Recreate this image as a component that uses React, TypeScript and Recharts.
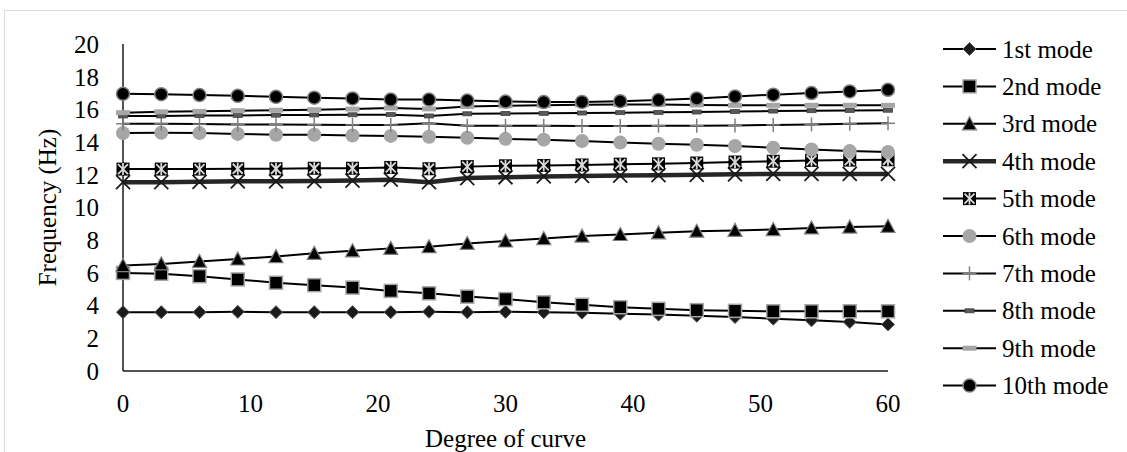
import React from 'react';
import { LineChart, Line, XAxis, YAxis, Legend } from 'recharts';

const degrees = [0, 3, 6, 9, 12, 15, 18, 21, 24, 27, 30, 33, 36, 39, 42, 45, 48, 51, 54, 57, 60];
const mode1 = [3.6, 3.6, 3.6, 3.62, 3.6, 3.6, 3.6, 3.6, 3.62, 3.6, 3.62, 3.6, 3.57, 3.5, 3.45, 3.38, 3.3, 3.2, 3.1, 3.0, 2.85];
const mode2 = [6.0, 5.95, 5.8, 5.6, 5.4, 5.25, 5.1, 4.9, 4.75, 4.55, 4.4, 4.2, 4.05, 3.9, 3.8, 3.72, 3.68, 3.65, 3.65, 3.65, 3.65];
const mode3 = [6.45, 6.55, 6.7, 6.85, 7.0, 7.2, 7.35, 7.5, 7.6, 7.8, 7.95, 8.1, 8.25, 8.35, 8.45, 8.55, 8.6, 8.65, 8.75, 8.8, 8.85];
const mode4 = [11.55, 11.55, 11.57, 11.6, 11.6, 11.62, 11.65, 11.7, 11.55, 11.8, 11.85, 11.9, 11.93, 11.95, 11.98, 12.0, 12.03, 12.05, 12.05, 12.05, 12.05];
const mode5 = [12.35, 12.35, 12.35, 12.37, 12.37, 12.4, 12.4, 12.45, 12.37, 12.5, 12.55, 12.57, 12.6, 12.65, 12.67, 12.72, 12.78, 12.83, 12.88, 12.9, 12.92];
const mode6 = [14.55, 14.57, 14.55, 14.5, 14.45, 14.45, 14.4, 14.38, 14.33, 14.27, 14.2, 14.15, 14.07, 13.97, 13.9, 13.84, 13.76, 13.66, 13.55, 13.45, 13.4];
const mode7 = [15.12, 15.12, 15.1, 15.08, 15.08, 15.06, 15.05, 15.05, 15.15, 15.0, 15.0, 15.0, 14.98, 14.98, 15.0, 15.0, 15.02, 15.05, 15.08, 15.12, 15.15];
const mode8 = [15.6, 15.6, 15.62, 15.63, 15.65, 15.66, 15.67, 15.68, 15.6, 15.73, 15.75, 15.76, 15.78, 15.8, 15.82, 15.84, 15.87, 15.9, 15.92, 15.94, 15.95];
const mode9 = [15.8, 15.85, 15.88, 15.92, 15.95, 15.98, 16.02, 16.08, 16.03, 16.18, 16.22, 16.25, 16.28, 16.3, 16.3, 16.27, 16.25, 16.25, 16.25, 16.25, 16.25];
const mode10 = [16.95, 16.93, 16.88, 16.83, 16.77, 16.72, 16.67, 16.6, 16.6, 16.54, 16.48, 16.45, 16.46, 16.5, 16.57, 16.67, 16.79, 16.9, 17.0, 17.1, 17.2];

const seriesNames = ['1st mode', '2nd mode', '3rd mode', '4th mode', '5th mode', '6th mode', '7th mode', '8th mode', '9th mode', '10th mode'];
const xTicks = [0, 10, 20, 30, 40, 50, 60];
const yTicks = [0, 2, 4, 6, 8, 10, 12, 14, 16, 18, 20];

const allModes = [mode1, mode2, mode3, mode4, mode5, mode6, mode7, mode8, mode9, mode10];
const data = degrees.map((d, i) => {
  const row: any = { deg: d };
  allModes.forEach((m, j) => { row['m' + (j + 1)] = m[i]; });
  return row;
});

const markerTypes = ['diamond', 'square', 'triangle', 'x', 'star', 'grayCircle', 'plus', 'smallDash', 'dash', 'blackCircle'];

const FONT = 'Liberation Serif';

function Marker({ type, cx, cy }: { type: string; cx: number; cy: number }) {
  switch (type) {
    case 'diamond':
      return <polygon points={`${cx},${cy - 6.5} ${cx + 6.5},${cy} ${cx},${cy + 6.5} ${cx - 6.5},${cy}`} fill="#1a1a1a" stroke="#595959" strokeWidth={1} />;
    case 'square':
      return <rect x={cx - 6.5} y={cy - 6.5} width={13} height={13} fill="#000" stroke="#a6a6a6" strokeWidth={1.5} />;
    case 'triangle':
      return <polygon points={`${cx},${cy - 7} ${cx + 7},${cy + 6} ${cx - 7},${cy + 6}`} fill="#000" stroke="#808080" strokeWidth={1.2} />;
    case 'x':
      return (
        <g stroke="#1a1a1a" strokeWidth={1.8}>
          <line x1={cx - 7} y1={cy - 7} x2={cx + 7} y2={cy + 7} />
          <line x1={cx - 7} y1={cy + 7} x2={cx + 7} y2={cy - 7} />
        </g>
      );
    case 'star':
      return (
        <g>
          <rect x={cx - 6.5} y={cy - 6.5} width={13} height={13} fill="#000" />
          <g stroke="#d9d9d9" strokeWidth={1.8}>
            <line x1={cx - 5} y1={cy - 5} x2={cx + 5} y2={cy + 5} />
            <line x1={cx - 5} y1={cy + 5} x2={cx + 5} y2={cy - 5} />
            <line x1={cx} y1={cy - 6} x2={cx} y2={cy + 6} />
          </g>
        </g>
      );
    case 'grayCircle':
      return <circle cx={cx} cy={cy} r={7} fill="#a6a6a6" />;
    case 'plus':
      return (
        <g stroke="#808080" strokeWidth={1.5}>
          <line x1={cx - 7} y1={cy} x2={cx + 7} y2={cy} />
          <line x1={cx} y1={cy - 7} x2={cx} y2={cy + 7} />
        </g>
      );
    case 'smallDash':
      return <rect x={cx - 4.5} y={cy - 2} width={9} height={4} fill="#595959" stroke="#404040" strokeWidth={0.8} />;
    case 'dash':
      return <rect x={cx - 7} y={cy - 2.5} width={14} height={5} fill="#a6a6a6" />;
    case 'blackCircle':
      return <circle cx={cx} cy={cy} r={6.5} fill="#000" stroke="#808080" strokeWidth={1.5} />;
    default:
      return null;
  }
}

const LegendContent = () => (
  <svg width={187} height={380} style={{ display: 'block', overflow: 'visible' }}>
    {seriesNames.map((name, i) => {
      const y = 21 + i * 37.4;
      const thick = i === 3;
      return (
        <g key={name}>
          <line x1={3} y1={y} x2={56} y2={y} stroke={thick ? '#262626' : '#000'} strokeWidth={thick ? 4.5 : 2} />
          <Marker type={markerTypes[i]} cx={29.5} cy={y} />
          <text x={62} y={y + 8.5} style={{ fontFamily: FONT }} fontSize={25} fill="#000">{name}</text>
        </g>
      );
    })}
  </svg>
);

const YLabel = (props: any) => {
  const vb = props.viewBox || { x: 0, y: 44, width: 123, height: 327 };
  const x = vb.x + 56;
  const y = vb.y + vb.height / 2;
  return (
    <text x={x} y={y} transform={`rotate(-90, ${x}, ${y})`} textAnchor="middle" style={{ fontFamily: FONT }} fontSize={25} fill="#000">
      Frequency (Hz)
    </text>
  );
};

export default function App() {
  return (
    <div style={{ position: 'absolute', left: 0, top: 0, width: 1127, height: 452, background: '#fff', fontFamily: FONT }}>
      <div style={{ position: 'absolute', left: 4, top: 10, width: 1123, height: 442, boxSizing: 'border-box', borderTop: '1px solid #d9d9d9', borderLeft: '1px solid #d9d9d9' }} />
      <div style={{ position: 'absolute', left: 0, top: 0 }}>
        <LineChart width={1127} height={452} data={data} margin={{ top: 44, right: 239, left: 0, bottom: 0 }} style={{ fontFamily: FONT }}>
          <XAxis
            dataKey="deg"
            type="number"
            domain={[0, 60]}
            ticks={xTicks}
            interval={0}
            tickLine={false}
            tickSize={0}
            tickMargin={23}
            height={81}
            axisLine={{ stroke: '#1a1a1a', strokeWidth: 1.5 }}
            tick={{ fontFamily: FONT, fontSize: 25, fill: '#000', style: { fontFamily: FONT } }}
            label={{ value: 'Degree of curve', position: 'insideBottom', offset: 5, fontFamily: FONT, fontSize: 25, fill: '#000', style: { fontFamily: FONT } }}
          />
          <YAxis
            type="number"
            domain={[0, 20]}
            ticks={yTicks}
            interval={0}
            tickLine={false}
            tickSize={0}
            tickMargin={24}
            width={123}
            axisLine={{ stroke: '#1a1a1a', strokeWidth: 1.5 }}
            tick={{ fontFamily: FONT, fontSize: 25, fill: '#000', style: { fontFamily: FONT } }}
            label={<YLabel />}
          />
          <Legend
            layout="vertical"
            align="center"
            verticalAlign="middle"
            content={<LegendContent />}
            wrapperStyle={{ position: 'absolute', left: 940, top: 28, width: 187, height: 380 }}
          />
          {seriesNames.map((name, i) => (
            <Line
              key={name}
              name={name}
              dataKey={'m' + (i + 1)}
              type="linear"
              stroke={i === 3 ? '#262626' : '#000'}
              strokeWidth={i === 3 ? 4.5 : 2}
              isAnimationActive={false}
              activeDot={false}
              dot={(p: any) => <Marker key={`dot-${i}-${p.index}`} type={markerTypes[i]} cx={p.cx} cy={p.cy} />}
            />
          ))}
        </LineChart>
      </div>
    </div>
  );
}
